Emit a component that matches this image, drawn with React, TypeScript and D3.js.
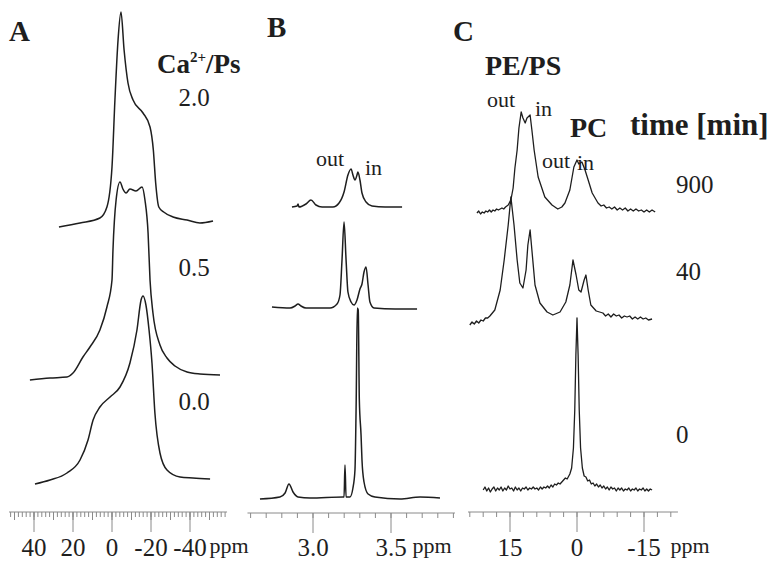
import React from "react";
import * as d3 from "d3";

// ppm, intensity (a.u.)

// A: static 31P spectra, Ca2+/PS ratio
const caRatios = ["2.0", "0.5", "0.0"];
const specA20: [number, number][] = [
  [27.2, -3], [16.4, 1], [6.2, 6], [2.6, 17], [0, 57], [-1.5, 124], [-3.1, 184],
  [-4.6, 212], [-6.2, 174], [-8.2, 141], [-10.8, 124], [-15.9, 111], [-19.5, 97],
  [-21.2, 74], [-22.4, 41], [-24, 17], [-26.5, 12], [-31.3, 7], [-38.5, 4], [-45.1, 1],
  [-51.8, 3],
];
const specA05: [number, number][] = [
  [42.1, -3], [31.8, -1], [23.1, 0], [20, 4], [14.9, 20], [11.3, 30], [6.2, 47],
  [2.6, 70], [0, 97], [-0.5, 127], [-2.1, 177], [-4.1, 195], [-5.6, 188], [-7.2, 184],
  [-9.2, 188], [-12.3, 186], [-15.4, 190], [-16.9, 177], [-18.5, 144], [-19.5, 97],
  [-21, 64], [-24.6, 32], [-28.2, 19], [-32.3, 11], [-38.5, 5], [-45.1, 3], [-55.4, 2],
];
const specA00: [number, number][] = [
  [39.5, -3], [31.8, 1], [23.1, 8], [16.4, 21], [12.3, 41], [9.7, 61], [6.2, 74],
  [1, 84], [-4.1, 94], [-9.2, 118], [-12.8, 151], [-14.9, 181], [-15.9, 185],
  [-17.4, 176], [-19, 151], [-20.5, 118], [-22, 68], [-24.6, 28], [-28.2, 11],
  [-34.9, 4], [-41.5, 3], [-50.3, 2],
];

// B: 1H spectra, head group region
const specB1: [number, number][] = [
  [2.865, 0], [2.898, 1], [2.904, 3], [2.91, 0], [2.955, 3], [2.987, 7], [3.019, 2],
  [3.058, 0], [3.128, 0], [3.167, 4], [3.199, 15], [3.224, 32], [3.244, 38],
  [3.256, 32], [3.269, 27], [3.282, 32], [3.288, 35], [3.301, 27], [3.314, 14],
  [3.34, 5], [3.378, 1], [3.462, 0], [3.571, 0],
];
const specB2: [number, number][] = [
  [2.737, 1], [2.853, 0], [2.885, 2], [2.904, 4], [2.923, 2], [2.955, 0], [3.109, 0],
  [3.154, 4], [3.173, 13], [3.186, 48], [3.199, 86], [3.212, 48], [3.224, 16],
  [3.244, 6], [3.263, 3], [3.282, 8], [3.301, 19], [3.314, 24], [3.327, 36],
  [3.34, 41], [3.353, 23], [3.365, 6], [3.391, 0], [3.526, -1], [3.667, -1],
];
const specB3: [number, number][] = [
  [2.66, -1], [2.788, 1], [2.821, 5], [2.846, 14], [2.872, 6], [2.904, 1], [2.981, 0],
  [3.192, 1], [3.199, 1], [3.205, 33], [3.212, 1], [3.237, 1], [3.256, 10],
  [3.269, 28], [3.277, 98], [3.284, 190], [3.29, 188], [3.297, 98], [3.308, 63],
  [3.314, 38], [3.327, 16], [3.353, 4], [3.397, 1], [3.558, -1], [3.686, 1], [3.814, 0],
];

// C: 31P spectra vs time [min]
const times = ["900", "40", "0"];
const specC900: [number, number][] = [
  [22.4, -2], [22.0, 0], [21.6, -3], [21.2, -1], [20.8, -2], [20.4, 0], [20.0, -1],
  [19.6, 1], [19.2, -1], [18.8, 1], [18.4, 0], [18.0, 2], [17.6, 1], [17.2, 2],
  [16.8, 3], [16.4, 2], [16.0, 4], [15.4, 6], [14.8, 11], [14.3, 23], [13.9, 43],
  [13.4, 61], [13.0, 83], [12.5, 99], [12.1, 93], [11.6, 88], [11.2, 93], [10.5, 96],
  [10.1, 81], [9.6, 61], [8.7, 34], [7.2, 14], [5.6, 6], [4.3, 2], [3.4, 4], [2.7, 8],
  [1.6, 21], [0.7, 44], [0, 51], [-0.4, 47], [-1.1, 49], [-1.8, 41], [-2.5, 31],
  [-3.4, 18], [-4.7, 8], [-5.4, 5], [-6, 6], [-6.6, 3], [-7.2, 4], [-7.8, 2], [-8.4, 4],
  [-9, 1], [-9.6, 3], [-10.2, 1], [-10.8, 3], [-11.4, 0], [-12, 2], [-12.6, 0],
  [-13.2, 2], [-13.8, 0], [-14.4, 1], [-15, -1], [-15.6, 1], [-16.2, -1], [-16.8, 1],
  [-17.5, -1],
];
const specC40: [number, number][] = [
  [24, -7], [23.5, -4], [23, -6], [22.5, -3], [22, -5], [21.5, -2], [21, -3],
  [20.5, 0], [20, 0], [19.5, 2], [18.4, 8], [17.2, 28], [16.3, 58], [15.4, 93],
  [14.8, 121], [14.1, 93], [13.4, 58], [12.8, 35], [12.1, 30], [11.4, 48], [11, 73],
  [10.5, 88], [10.1, 68], [9.4, 33], [8.3, 15], [6.7, 6], [5.4, 3], [3.8, 6],
  [2.5, 16], [1.6, 33], [0.9, 58], [0.2, 43], [-0.4, 28], [-0.9, 26], [-1.6, 38],
  [-2.0, 43], [-2.5, 28], [-3.1, 13], [-4.3, 7], [-5.8, 5], [-6.4, 2], [-7, 4],
  [-7.6, 1], [-8.2, 4], [-8.8, 2], [-9.4, 3], [-10, 0], [-10.6, 2], [-11.2, 1],
  [-11.8, 2], [-12.4, -1], [-13, 1], [-13.6, -1], [-14.2, 1], [-14.8, -1], [-15.4, 0],
  [-16, -2], [-16.8, -1],
];
const specC0: [number, number][] = [
  [21, 0], [20.6, 3], [20.2, -1], [19.8, 2], [19.4, -2], [19, 1], [18.6, 3], [18.2, -1],
  [17.8, 2], [17.4, 0], [17, 3], [16.6, -1], [16.2, 2], [15.8, 0], [15.4, 4], [15, 1],
  [14.6, 2], [14.2, -1], [13.8, 3], [13.4, 0], [13, 2], [12.6, -1], [12.2, 2],
  [11.8, 1], [11.4, 3], [11, 0], [10.6, 2], [10.2, 1], [9.8, 3], [9.4, 1], [9, 2],
  [8.6, 0], [8.2, 3], [7.8, 1], [7.4, 3], [7, 2], [6.6, 4], [6.2, 2], [5.8, 5],
  [5.4, 3], [5, 6], [4.6, 5], [4.2, 7], [3.8, 6], [3.2, 9], [2.6, 12], [2.2, 11],
  [1.6, 16], [1.2, 22], [0.8, 42], [0.5, 80], [0.25, 135], [0, 172], [-0.25, 135],
  [-0.5, 80], [-0.8, 42], [-1.2, 22], [-1.6, 14], [-2.0, 13], [-2.4, 9], [-2.8, 10],
  [-3.2, 6], [-3.6, 7], [-4, 4], [-4.4, 6], [-4.8, 3], [-5.2, 5], [-5.6, 2], [-6, 4],
  [-6.4, 1], [-6.8, 3], [-7.2, 0], [-7.6, 3], [-8, 1], [-8.4, 2], [-8.8, -1],
  [-9.2, 2], [-9.6, 0], [-10, 2], [-10.4, -1], [-10.8, 1], [-11.2, 0], [-11.6, 2],
  [-12, -1], [-12.4, 1], [-12.8, 0], [-13.2, 2], [-13.6, -1], [-14, 1], [-14.4, 0],
  [-14.8, 2], [-15.2, -1], [-15.6, 1], [-16, -1], [-16.4, 1], [-16.8, 0],
];

// axis ticks
const ticksA = [40, 20, 0, -20, -40];
const ticksB = [3.0, 3.5];
const ticksC = [15, 0, -15];

const serif = "'Liberation Serif', 'Times New Roman', serif";
const ink = "#1e1e1e";
const axisCol = "#8a8a8a";

const xA = d3.scaleLinear().domain([40, -40]).range([34, 190]);
const xB = d3.scaleLinear().domain([3.0, 3.5]).range([313, 391]);
const xC = d3.scaleLinear().domain([15, -15]).range([510, 644]);
// intensity -> vertical offset from each trace's baseline
const yI = d3.scaleLinear().domain([0, 100]).range([0, -100]);

const Trace = ({ data, x, base, noisy }: any) => {
  const line = d3
    .line<[number, number]>()
    .x(d => x(d[0]))
    .y(d => base + yI(d[1]))
    .curve(noisy ? d3.curveLinear : d3.curveMonotoneX);
  return (
    <path d={line(data) || ""} fill="none" stroke={ink} strokeWidth={noisy ? 1.3 : 1.5}
      strokeLinejoin="round" />
  );
};

const Axis = ({ x, from, to, minor, mid, major, labels, fmt, y, ppmX }: any) => (
  <g stroke={axisCol} strokeWidth={1}>
    <line x1={x(from)} x2={x(to)} y1={y} y2={y} />
    {minor.map((v: number, i: number) => (
      <line key={"m" + i} x1={x(v)} x2={x(v)} y1={y} y2={y + 5} />
    ))}
    {mid.map((v: number, i: number) => (
      <line key={"d" + i} x1={x(v)} x2={x(v)} y1={y} y2={y + 8} />
    ))}
    {major.map((v: number, i: number) => (
      <line key={"M" + i} x1={x(v)} x2={x(v)} y1={y} y2={y + 20} />
    ))}
    {labels.map((v: number, i: number) => (
      <text key={"t" + i} x={x(v)} y={556} textAnchor="middle" stroke="none" fill={ink}
        fontSize={25} fontFamily={serif}>{fmt(v)}</text>
    ))}
    <text x={ppmX} y={553} textAnchor="middle" stroke="none" fill={ink} fontSize={22}
      fontFamily={serif}>ppm</text>
  </g>
);

const App = () => {
  const minorA = d3.range(-58, 53, 2);
  const midA = d3.range(-50, 51, 10);
  const minorB = d3.range(26, 40).map(v => v / 10);
  const minorC = d3.range(-21, 25, 3);
  return (
    <svg width={776} height={563} style={{ position: "absolute", left: 0, top: 0 }}
      fontFamily={serif}>
      <rect width={776} height={563} fill="#fff" />

      {/* panel A */}
      <text x={9} y={41} fontSize={29} fontWeight="bold" fill={ink}>A</text>
      <text x={157} y={73} fontSize={27} fontWeight="bold" fill={ink}>
        Ca<tspan dy={-11} fontSize={15}>2+</tspan><tspan dy={11}>/Ps</tspan>
      </text>
      <Trace data={specA20} x={xA} base={224} />
      <Trace data={specA05} x={xA} base={377} />
      <Trace data={specA00} x={xA} base={481} />
      {caRatios.map((c, i) => (
        <text key={c} x={194} y={[106, 276, 410][i]} textAnchor="middle" fontSize={25}
          fill={ink}>{c}</text>
      ))}
      <Axis x={xA} from={52.8} to={-59} minor={minorA} mid={midA} major={ticksA}
        labels={ticksA} fmt={(v: number) => String(v)} y={512} ppmX={229} />

      {/* panel B */}
      <text x={267} y={37} fontSize={29} fontWeight="bold" fill={ink}>B</text>
      <text x={316} y={166} fontSize={22} fill={ink}>out</text>
      <text x={365} y={175} fontSize={22} fill={ink}>in</text>
      <Trace data={specB1} x={xB} base={207} />
      <Trace data={specB2} x={xB} base={308} />
      <Trace data={specB3} x={xB} base={498} />
      <Axis x={xB} from={2.58} to={3.91} minor={minorB} mid={[]} major={ticksB}
        labels={ticksB} fmt={d3.format(".1f")} y={513} ppmX={432} />

      {/* panel C */}
      <text x={453} y={41} fontSize={29} fontWeight="bold" fill={ink}>C</text>
      <text x={485} y={75} fontSize={28} fontWeight="bold" fill={ink}>PE/PS</text>
      <text x={487} y={107} fontSize={22} fill={ink}>out</text>
      <text x={535} y={116} fontSize={22} fill={ink}>in</text>
      <text x={570} y={137} fontSize={28} fontWeight="bold" fill={ink}>PC</text>
      <text x={542} y={168} fontSize={22} fill={ink}>out</text>
      <text x={577} y={170} fontSize={22} fill={ink}>in</text>
      <text x={630} y={135} fontSize={31} fontWeight="bold" fill={ink}>time [min]</text>
      <Trace data={specC900} x={xC} base={211} noisy />
      <Trace data={specC40} x={xC} base={318} noisy />
      <Trace data={specC0} x={xC} base={490} noisy />
      {times.map((t, i) => (
        <text key={t} x={676} y={[193, 280, 443][i]} fontSize={25} fill={ink}>{t}</text>
      ))}
      <Axis x={xC} from={24.4} to={-22.6} minor={minorC} mid={[]} major={ticksC}
        labels={ticksC} fmt={(v: number) => String(v)} y={512} ppmX={690} />
    </svg>
  );
};

export default App;
